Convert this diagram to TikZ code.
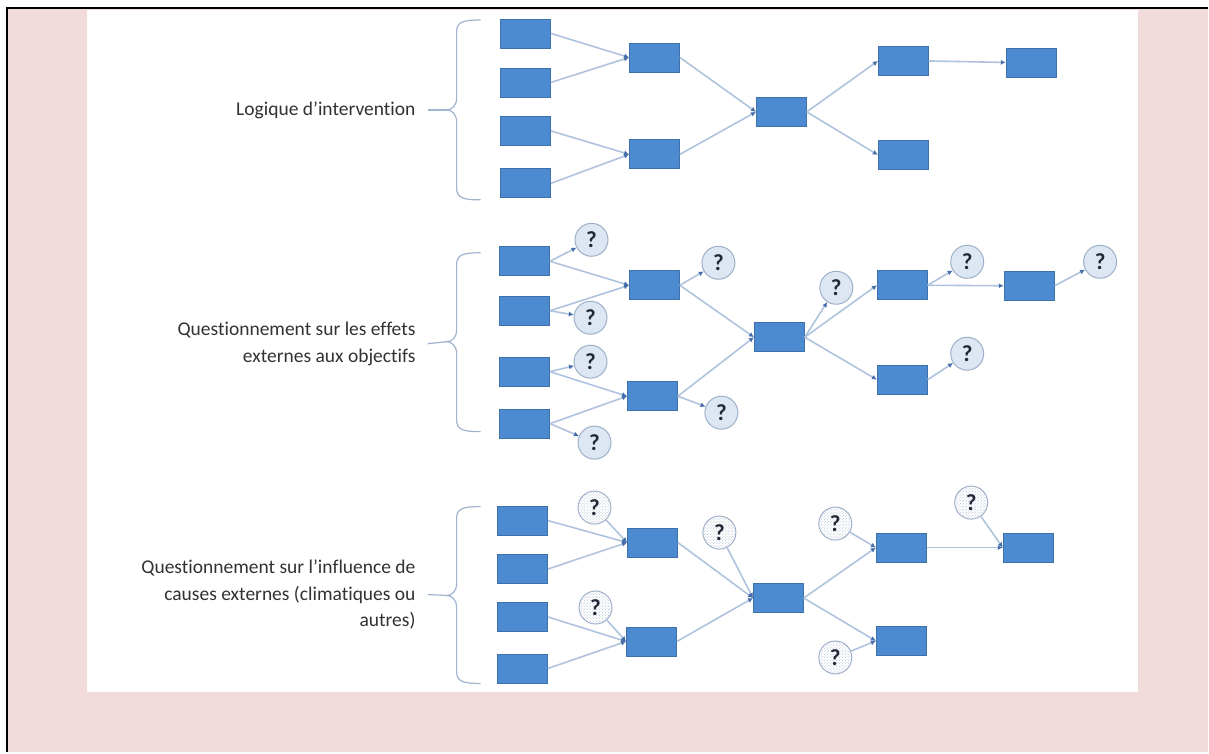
\documentclass[tikz,border=0pt]{standalone}
\usepackage{fontspec}
\setmainfont{Carlito}[Ligatures=NoCommon]
\usetikzlibrary{arrows.meta,patterns}
\definecolor{pinkbg}{RGB}{242,220,219}
\definecolor{boxfill}{RGB}{76,139,208}
\definecolor{boxdraw}{RGB}{62,112,172}
\definecolor{linec}{RGB}{176,195,222}
\definecolor{tipc}{RGB}{70,110,170}
\definecolor{qfill}{RGB}{221,231,243}
\definecolor{qdraw}{RGB}{158,176,200}
\definecolor{qdots}{RGB}{178,192,212}
\definecolor{qtext}{RGB}{35,40,55}
\definecolor{txt}{RGB}{50,50,50}
\definecolor{bracec}{RGB}{160,180,206}
\newcommand{\drawbrace}[4]{%
  \coordinate (#1) at (447,#3);
  \draw[brc] (481,#2) .. controls (463,#2) and (457,#2+2) .. (457,#2+12)
    -- (457,#3-12) .. controls (457,#3-4) and (452,#3) .. (#1)
    .. controls (452,#3) and (457,#3+4) .. (457,#3+12)
    -- (457,#4-12) .. controls (457,#4-2) and (463,#4) .. (481,#4);}
\begin{document}
\begin{tikzpicture}[x=1pt,y=-1pt,
  blk/.style={rectangle, fill=boxfill, draw=boxdraw, line width=0.8pt, minimum width=50pt, minimum height=29pt, inner sep=0pt},
  qn/.style={circle, fill=qfill, draw=qdraw, line width=1pt, minimum size=33pt, inner sep=0pt, font=\fontsize{23}{23}\selectfont\bfseries, text=qtext},
  qh/.style={qn, fill=white, postaction={pattern=crosshatch dots, pattern color=qdots}},
  conn/.style={draw=linec, line width=1.6pt, -{Latex[length=5pt,width=5pt,color=tipc]}},
  lbl/.style={font=\fontsize{19.5}{26.5}\selectfont, text=txt, align=right, anchor=east, inner sep=0pt},
  brc/.style={draw=bracec, line width=1.2pt},
]
% background and frame
\fill[white] (0,0) rectangle (1209,753);
\fill[pinkbg] (7,8) rectangle (1209,753);
\fill[white] (87,10) rectangle (1139,693);
\draw[black, line width=2pt] (6,8) -- (1209,8);
\draw[black, line width=2.5pt] (7.2,7) -- (7.2,753);

% ---------- Row 1 ----------
\node[lbl] (t1) at (416,110) {Logique d’intervention};
\drawbrace{k1}{20}{110}{200}
\draw[brc] ([xshift=12pt]t1.east) -- (k1);
\node[blk] (a1) at (526,33.5) {};
\node[blk] (a2) at (526,82.5) {};
\node[blk] (a3) at (526,131) {};
\node[blk] (a4) at (526,183.5) {};
\node[blk] (am1) at (655,57.5) {};
\node[blk] (am2) at (655,154.5) {};
\node[blk] (ac) at (782,112) {};
\node[blk] (ar1) at (904,61) {};
\node[blk] (ar2) at (904,155) {};
\node[blk] (arr) at (1032,62.5) {};
\draw[conn] (a1.east) -- (am1.west);
\draw[conn] (a2.east) -- (am1.west);
\draw[conn] (a3.east) -- (am2.west);
\draw[conn] (a4.east) -- (am2.west);
\draw[conn] (am1.east) -- (ac.west);
\draw[conn] (am2.east) -- (ac.west);
\draw[conn] (ac.east) -- (ar1.west);
\draw[conn] (ac.east) -- (ar2.west);
\draw[conn] (ar1.east) -- (arr.west);

% ---------- Row 2 ----------
\node[lbl] (t2) at (416,344) {Questionnement sur les effets\\externes aux objectifs};
\drawbrace{k2}{253}{342}{432}
\draw[brc] ([xshift=12pt]t2.east) -- (k2);
\node[blk] (b1) at (525,261.5) {};
\node[blk] (b2) at (525,311) {};
\node[blk] (b3) at (525,372) {};
\node[blk] (b4) at (525,424) {};
\node[blk] (bm1) at (655,285.5) {};
\node[blk] (bm2) at (653,396.5) {};
\node[blk] (bc) at (780,337.5) {};
\node[blk] (br1) at (903,285.5) {};
\node[blk] (br2) at (903,380) {};
\node[blk] (brr) at (1030,286) {};
\node[qn] (q1) at (592,240) {?};
\node[qn] (q2) at (591,318) {?};
\node[qn] (q3) at (591,362) {?};
\node[qn] (q4) at (595,443) {?};
\node[qn] (qm1) at (719,263) {?};
\node[qn] (qm2) at (722,413) {?};
\node[qn] (qc) at (837,288) {?};
\node[qn] (qr1) at (968,262) {?};
\node[qn] (qr2) at (968,354) {?};
\node[qn] (qrr) at (1101,262) {?};
\draw[conn] (b1.east) -- (bm1.west);
\draw[conn] (b2.east) -- (bm1.west);
\draw[conn] (b3.east) -- (bm2.west);
\draw[conn] (b4.east) -- (bm2.west);
\draw[conn] (bm1.east) -- (bc.west);
\draw[conn] (bm2.east) -- (bc.west);
\draw[conn] (bc.east) -- (br1.west);
\draw[conn] (bc.east) -- (br2.west);
\draw[conn] (br1.east) -- (brr.west);
\draw[conn] (b1.east) -- (q1);
\draw[conn] (b2.east) -- (q2);
\draw[conn] (b3.east) -- (q3);
\draw[conn] (b4.east) -- (q4);
\draw[conn] (bm1.east) -- (qm1);
\draw[conn] (bm2.east) -- (qm2);
\draw[conn] (bc.east) -- (qc);
\draw[conn] (br1.east) -- (qr1);
\draw[conn] (br2.east) -- (qr2);
\draw[conn] (brr.east) -- (qrr);

% ---------- Row 3 ----------
\node[lbl] (t3) at (416,595) {Questionnement sur l’influence de\\causes externes (climatiques ou\\autres)};
\drawbrace{k3}{507}{596}{684}
\draw[brc] ([xshift=12pt]t3.east) -- (k3);
\node[blk] (c1) at (523,521) {};
\node[blk] (c2) at (523,569.5) {};
\node[blk] (c3) at (523,617.5) {};
\node[blk] (c4) at (523,669) {};
\node[blk] (cm1) at (653,543) {};
\node[blk] (cm2) at (652,642) {};
\node[blk] (cc) at (779,598.5) {};
\node[blk] (cr1) at (902,548) {};
\node[blk] (cr2) at (902,641.5) {};
\node[blk] (crr) at (1029,548) {};
\node[qh] (h1) at (595,508) {?};
\node[qh] (h2) at (720,533) {?};
\node[qh] (h3) at (596,608) {?};
\node[qh] (h4) at (836,524) {?};
\node[qh] (h5) at (836,658) {?};
\node[qh] (h6) at (972,503) {?};
\draw[conn] (c1.east) -- (cm1.west);
\draw[conn] (c2.east) -- (cm1.west);
\draw[conn] (c3.east) -- (cm2.west);
\draw[conn] (c4.east) -- (cm2.west);
\draw[conn] (cm1.east) -- (cc.west);
\draw[conn] (cm2.east) -- (cc.west);
\draw[conn] (cc.east) -- (cr1.west);
\draw[conn] (cc.east) -- (cr2.west);
\draw[conn] (cr1.east) -- (crr.west);
\draw[conn] (h1) -- (cm1.west);
\draw[conn] (h2) -- (cc.west);
\draw[conn] (h3) -- (cm2.west);
\draw[conn] (h4) -- (cr1.west);
\draw[conn] (h5) -- (cr2.west);
\draw[conn] (h6) -- (crr.west);
\end{tikzpicture}
\end{document}
